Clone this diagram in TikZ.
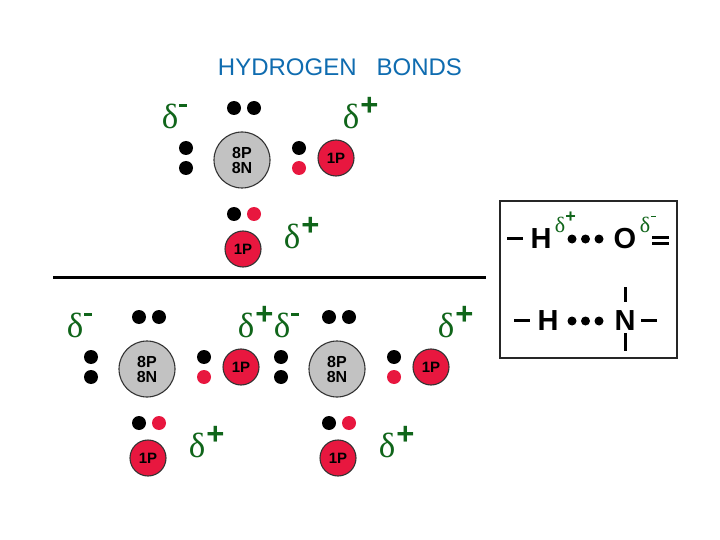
\documentclass[tikz,border=0pt]{standalone}
\usepackage{fontspec}
\setmainfont{Liberation Sans}
\newfontfamily\deltafont{Liberation Serif}
\definecolor{hred}{HTML}{E8173F}
\definecolor{ogray}{HTML}{C2C2C2}
\definecolor{dgreen}{HTML}{10651A}
\definecolor{tblue}{HTML}{0F6CB0}
\begin{document}
\begin{tikzpicture}[x=1pt,y=-1pt,
  oxy/.style={circle,draw=black!80,line width=1.1pt,fill=ogray,minimum size=56pt,inner sep=0pt,align=center,font=\bfseries\fontsize{16}{16}\selectfont},
  hyd/.style={circle,draw=black!80,line width=1.1pt,fill=hred,minimum size=36pt,inner sep=0pt,font=\bfseries\fontsize{15}{15}\selectfont},
  edot/.style={circle,fill=black,minimum size=14pt,inner sep=0pt},
  rdot/.style={circle,fill=hred,minimum size=14pt,inner sep=0pt},
  bdot/.style={circle,fill=black,minimum size=9pt,inner sep=0pt},
  dlt/.style={text=dgreen,inner sep=0pt,font=\deltafont\fontsize{35}{35}\selectfont},
  sgn/.style={text=dgreen,inner sep=0pt,font=\bfseries\fontsize{#1}{#1}\selectfont},
  sdlt/.style={text=dgreen,inner sep=0pt,font=\deltafont\fontsize{22}{22}\selectfont},
  atom/.style={inner sep=0pt,font=\bfseries\fontsize{29}{29}\selectfont},
  bondl/.style={line width=3pt,black},
  molecule/.pic={
    \node[oxy] (O) at (0,0) {8P\\[-1pt]8N};
    \node[hyd] (HR) at (94,-2) {1P};
    \node[hyd] (HB) at (1,89) {1P};
    \node[edot] (t1) at (-8,-52) {};
    \node[edot] (t2) at (12,-52) {};
    \node[edot] (l1) at (-56,-12) {};
    \node[edot] (l2) at (-56,8) {};
    \node[edot] (r1) at (57,-12) {};
    \node[rdot] (r2) at (57,8) {};
    \node[edot] (b1) at (-8,54) {};
    \node[rdot] (b2) at (12,54) {};
  }]
\useasboundingbox (0,0) rectangle (720,540);
\fill[white] (0,0) rectangle (720,540);
\node[text=tblue,inner sep=0pt,font=\fontsize{24}{24}\selectfont] (title) at (340,67) {HYDROGEN\ \ \ BONDS};
\pic at (242,160) {molecule};
\pic at (147,369) {molecule};
\pic at (337,369) {molecule};
\node[dlt] (d1) at (170,116) {δ};
\node[dlt] (d2) at (351,116) {δ};
\node[dlt] (d3) at (292,236) {δ};
\node[dlt] (d4) at (75,325) {δ};
\node[dlt] (d5) at (246,325) {δ};
\node[dlt] (d6) at (197,445) {δ};
\node[dlt] (d7) at (282,325) {δ};
\node[dlt] (d8) at (446,325) {δ};
\node[dlt] (d9) at (387,445) {δ};
\foreach \n/\s in {d2/+,d3/+,d5/+,d6/+,d8/+,d9/+}{
  \node[sgn=31,anchor=center] at ([xshift=18.5pt,yshift=9.5pt]\n.center) {\s};
}
\foreach \n in {d1,d4,d7}{
  \draw[dgreen,line width=2.4pt] ([xshift=9pt,yshift=10.5pt]\n.center) -- ++(8,0);
}
\draw[line width=2.2pt,black] (53,277.5) -- (486,277.5);
\draw[line width=1.8pt,black!85] (500,201) rectangle (677,358);
\node[atom] (H1) at (541,239) {H};
\node[atom] (O1) at (625,239) {O};
\node[atom] (H2) at (548,321) {H};
\node[atom] (N2) at (625,321) {N};
\foreach \x in {572,585.5,599}{
  \node[bdot] at (\x,239) {};
  \node[bdot] at (\x,321) {};
}
\draw[bondl] (507,238) -- (523,238);
\draw[bondl] (652,237.5) -- (669,237.5);
\draw[bondl] (652,243.5) -- (669,243.5);
\draw[bondl] (514,320) -- (530,320);
\draw[bondl] (641,320) -- (657,320);
\draw[bondl] (625,287) -- (625,302);
\draw[bondl] (625,333) -- (625,351);
\node[sdlt] (sd1) at (560,225) {δ};
\node[sdlt] (sd2) at (645,225) {δ};
\node[sgn=18] at (570.5,217) {+};
\draw[dgreen,line width=1.3pt] (651,216.5) -- (656,216.5);
\end{tikzpicture}
\end{document}
